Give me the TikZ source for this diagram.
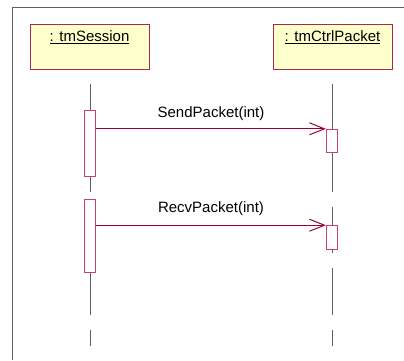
\documentclass[tikz,border=0pt]{standalone}
\usepackage{fontspec}
\setmainfont{Liberation Sans}
\usetikzlibrary{arrows.meta}
\definecolor{objborder}{HTML}{A82850}
\definecolor{objfill}{HTML}{FFFFCC}
\definecolor{actborder}{HTML}{C8406A}
\definecolor{msgcolor}{HTML}{990033}
\definecolor{lifecolor}{HTML}{606060}
\definecolor{framecolor}{HTML}{606060}

\begin{document}
\begin{tikzpicture}[x=1pt,y=-1pt,
  obj/.style={draw=objborder, fill=objfill, line width=1pt,
              minimum width=119pt, minimum height=45pt, inner sep=0pt},
  objlabel/.style={font=\fontsize{15}{18}\selectfont, anchor=base, inner sep=0pt},
  act/.style={draw=actborder, fill=white, line width=1pt,
              minimum width=11.4pt, inner sep=0pt},
  life/.style={draw=lifecolor, line width=1pt},
  msg/.style={draw=msgcolor, line width=1pt,
              -{Straight Barb[length=15pt,width=12pt,line width=1pt]}},
  msglabel/.style={font=\fontsize{15}{18}\selectfont, anchor=base, inner sep=0pt}]

\useasboundingbox (0,0) rectangle (404,360);

% enclosing frame (only its left and top edges are on the page)
\draw[framecolor, line width=1pt] (12,360) -- (12,7) -- (404,7);

% objects
\node[obj] (s) at (89.5,46.5) {};
\node[objlabel] (sl) at (89.5,41.5) {\underline{: tmSession}};
\node[obj] (c) at (332.5,46.5) {};
\node[objlabel] (cl) at (332.5,41.5) {\underline{: tmCtrlPacket}};

% activation bars
\node[act, minimum height=66pt]   (aL1) at (90,143.7) {};
\node[act, minimum height=23pt]   (aR1) at (332,140.8) {};
\node[act, minimum height=73.4pt] (aL2) at (90,236) {};
\node[act, minimum height=23.6pt] (aR2) at (332,237.5) {};

% lifeline end points
\coordinate (sTop) at (90,84);
\coordinate (sA)   at (90,191.7);
\coordinate (sB)   at (90,315);
\coordinate (sC)   at (90,330);
\coordinate (sD)   at (90,345.7);
\coordinate (cTop) at (332,84);
\coordinate (cA)   at (332,191.7);
\coordinate (cB)   at (332,206.7);
\coordinate (cC)   at (332,252.7);
\coordinate (cD)   at (332,268.3);
\coordinate (cE)   at (332,315);
\coordinate (cF)   at (332,330);
\coordinate (cG)   at (332,345.7);

% lifelines, broken where the bars sit
\draw[life] (sTop) -- (aL1.north) (aL1.south) -- (sA)
            (aL2.south) -- (sB) (sC) -- (sD);
\draw[life] (cTop) -- (aR1.north) (aR1.south) -- (cA)
            (cB) -- (aR2.north) (aR2.south) -- (cC)
            (cD) -- (cE) (cF) -- (cG);

% messages
\draw[msg] (aL1.east |- aR1.north west) --
  node[msglabel, yshift=11.6pt] (m1) {SendPacket(int)} (aR1.north west);
\draw[msg] (aL2.east |- aR2.north west) --
  node[msglabel, yshift=13pt] (m2) {RecvPacket(int)} (aR2.north west);
\end{tikzpicture}
\end{document}
